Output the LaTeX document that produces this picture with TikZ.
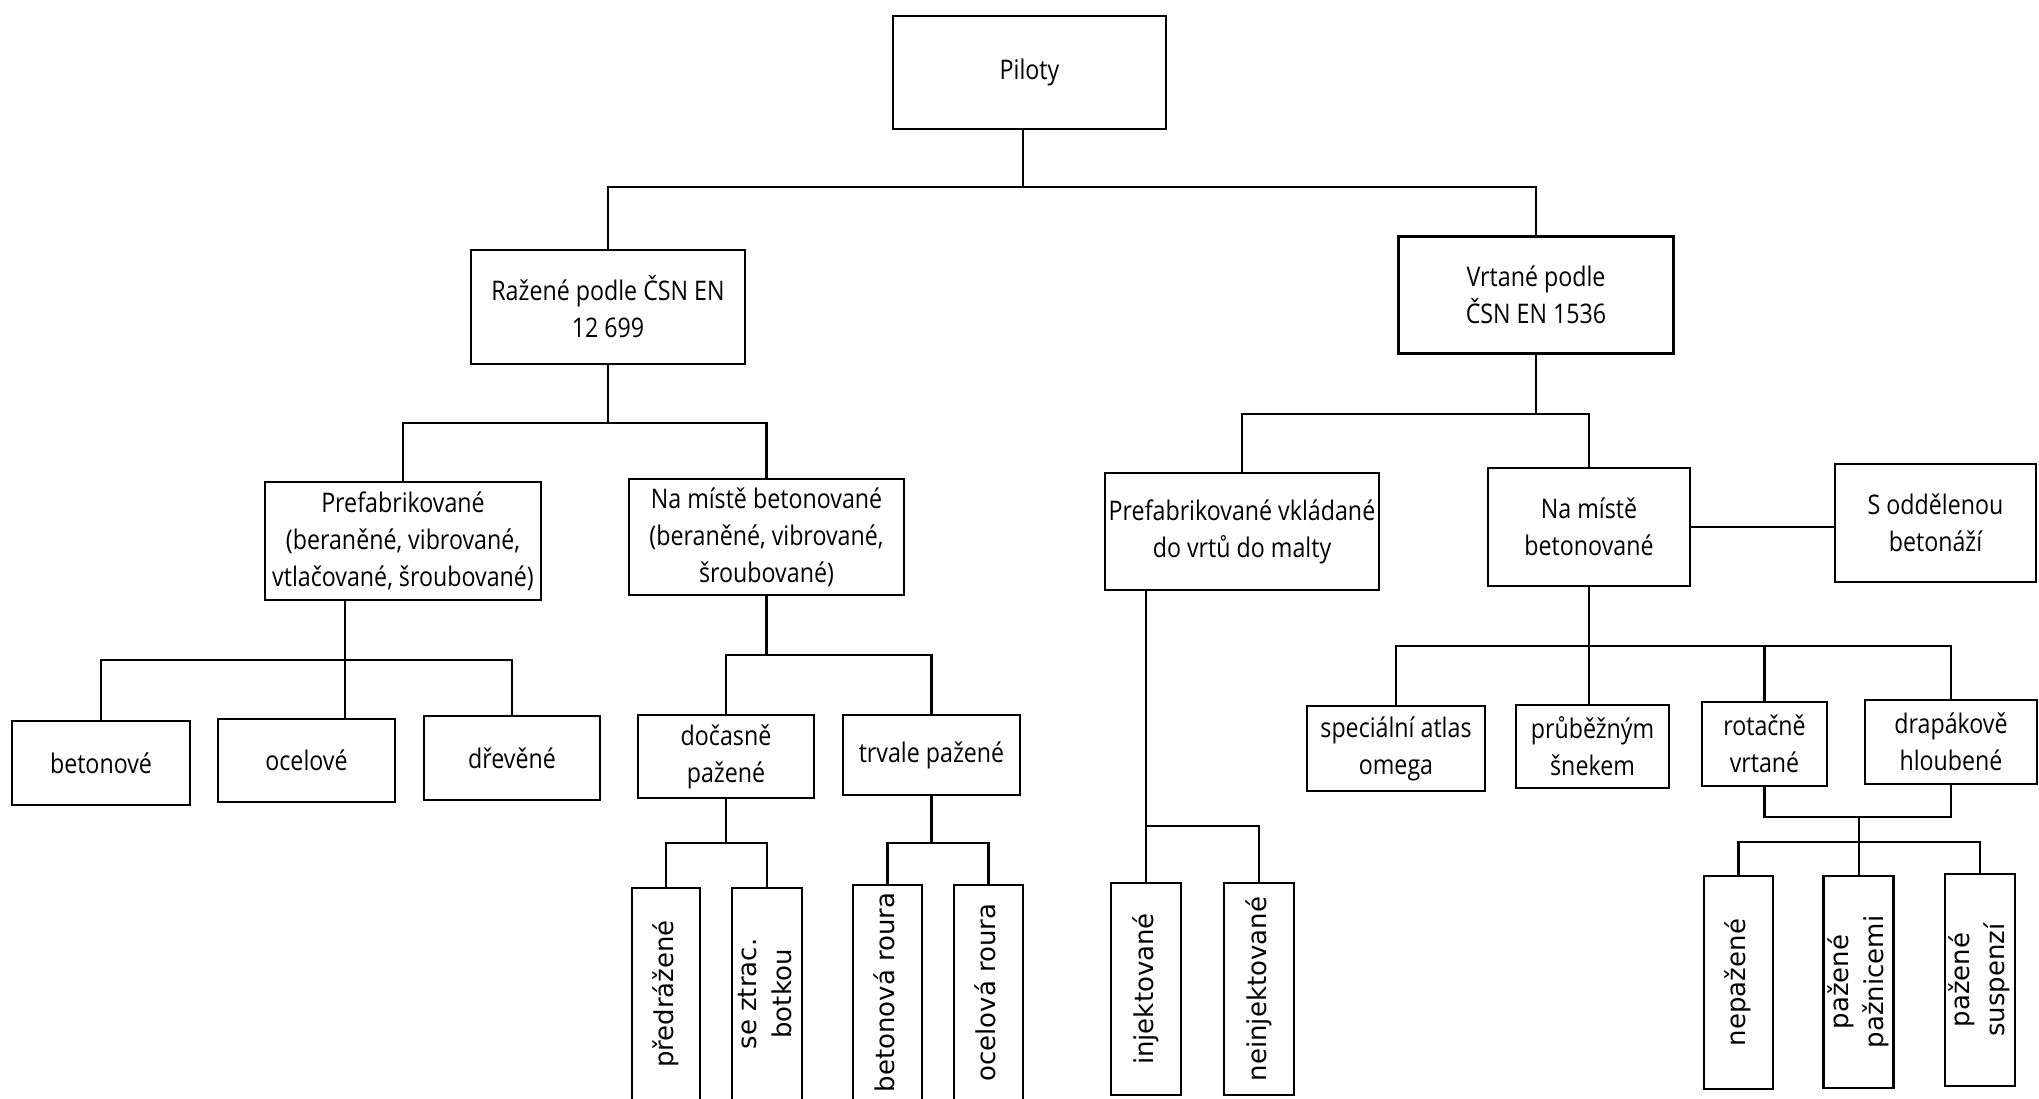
\documentclass[tikz,border=0pt]{standalone}
\usepackage{fontspec}
\setmainfont{Open Sans}[FakeStretch=0.86]
\newfontfamily\vfont{DejaVu Sans}

\newcommand\vtext[1]{\rotatebox{90}{\vfont\fontsize{13}{17.5}\selectfont\begin{tabular}{@{}c@{}}#1\end{tabular}}}

\begin{document}
\begin{tikzpicture}[x=0.5pt, y=-0.5pt, line width=1.1pt,
  hb/.style={draw, line width=1.35pt, inner sep=0pt, align=center,
    font=\fontsize{13.5}{18.5}\selectfont},
  vb/.style={draw, line width=1.35pt, inner sep=0pt}]
  \useasboundingbox (0,0) rectangle (2039,1098);

  \node (pil) [hb, minimum width=136.5pt, minimum height=56.5pt] at (1029.5,72.5) {Piloty};

  \node (raz) [hb, minimum width=137pt, minimum height=57pt] at (608,307) {Ražené podle ČSN EN\\12 699};
  \node (vrt) [hb, minimum width=137.5pt, minimum height=58.5pt] at (1536,295) {Vrtané podle\\ČSN EN 1536};

  % razene
  \node (prefA) [hb, minimum width=138pt, minimum height=59pt] at (403,541) {Prefabrikované\\(beraněné, vibrované,\\vtlačované, šroubované)};
  \node (namA) [hb, minimum width=137.5pt, minimum height=58pt] at (766.5,537) {Na místě betonované\\(beraněné, vibrované,\\šroubované)};

  \node (beton) [hb, minimum width=89pt, minimum height=42pt] at (101,763) {betonové};
  \node (ocel) [hb, minimum width=88.5pt, minimum height=41.5pt] at (306.5,760.5) {ocelové};
  \node (drev) [hb, minimum width=88pt, minimum height=42pt] at (512,758) {dřevěné};
  \node (doc) [hb, minimum width=88pt, minimum height=41.5pt] at (726,756.5) {dočasně\\pažené};
  \node (trv) [hb, minimum width=88.5pt, minimum height=40pt] at (931.5,755) {trvale pažené};

  \node (pred) [vb, minimum width=34pt, minimum height=106pt] at (666,994) {\vtext{předrážené}};
  \node (ztr) [vb, minimum width=35pt, minimum height=106pt] at (767,994) {\vtext{se ztrac.\\botkou}};
  \node (betr) [vb, minimum width=34.5pt, minimum height=107.5pt] at (887.5,992.5) {\vtext{betonová roura}};
  \node (ocr) [vb, minimum width=34.5pt, minimum height=107.5pt] at (988.5,992.5) {\vtext{ocelová roura}};

  % vrtane
  \node (prefB) [hb, minimum width=137pt, minimum height=58.5pt] at (1242,531.5) {Prefabrikované vkládané\\do vrtů do malty};
  \node (namB) [hb, minimum width=101pt, minimum height=59pt] at (1589,527) {Na místě\\betonované};
  \node (sodd) [hb, minimum width=100.5pt, minimum height=59pt] at (1935.5,523) {S oddělenou\\betonáží};

  \node (inj) [vb, minimum width=35pt, minimum height=106pt] at (1146,989) {\vtext{injektované}};
  \node (ninj) [vb, minimum width=35pt, minimum height=106pt] at (1259,989) {\vtext{neinjektované}};

  \node (spec) [hb, minimum width=89pt, minimum height=42.5pt] at (1396,748.5) {speciální atlas\\omega};
  \node (prub) [hb, minimum width=76.5pt, minimum height=41.5pt] at (1592.5,746.5) {průběžným\\šnekem};
  \node (rot) [hb, minimum width=62.5pt, minimum height=42pt] at (1764.5,744) {rotačně\\vrtané};
  \node (drap) [hb, minimum width=86pt, minimum height=42pt] at (1951,742) {drapákově\\hloubené};

  \node (nep) [vb, minimum width=34.5pt, minimum height=106.5pt] at (1738.5,982.5) {\vtext{nepažené}};
  \node (pzn) [vb, minimum width=34.5pt, minimum height=106pt] at (1858.5,982) {\vtext{pažené\\pažnicemi}};
  \node (psus) [vb, minimum width=35pt, minimum height=106pt] at (1980,980) {\vtext{pažené\\suspenzí}};

  % junctions
  \coordinate (j1) at (1023,187);
  \coordinate (j2a) at (611,423);
  \coordinate (j2b) at (1539,414);
  \coordinate (j3a) at (345,660);
  \coordinate (j3b) at (769,655);
  \coordinate (j4a) at (724,843);
  \coordinate (j4b) at (930,843);
  \coordinate (j3c) at (1146,826);
  \coordinate (j3d) at (1589,646);
  \coordinate (j4c) at (1859,817);
  \coordinate (j4d) at (1859,842);

  \draw (j1 |- pil.south) -- (j1);
  \draw (raz.north) |- (j1) -| (vrt.north);

  \draw (raz.south) -- (raz.south |- j2a);
  \draw (prefA.north) |- (j2a) -| (namA.north);
  \draw (vrt.south) -- (vrt.south |- j2b);
  \draw (prefB.north) |- (j2b) -| (namB.north);
  \draw (namB.east) -- (namB.east -| sodd.west);

  \draw (j3a |- prefA.south) -- (j3a |- ocel.north);
  \draw (beton.north) |- (j3a) -| (drev.north);
  \draw (namA.south) -- (namA.south |- j3b);
  \draw (doc.north) |- (j3b) -| (trv.north);

  \draw (doc.south) -- (doc.south |- j4a);
  \draw (pred.north) |- (j4a) -| (ztr.north);
  \draw (trv.south) -- (trv.south |- j4b);
  \draw (betr.north) |- (j4b) -| (ocr.north);

  \draw (j3c |- prefB.south) -- (inj.north);
  \draw (j3c) -| (ninj.north);

  \draw (namB.south) -- (j3d |- prub.north);
  \draw (spec.north) |- (j3d) -| (drap.north);
  \draw (rot.north |- j3d) -- (rot.north);

  \draw (rot.south) |- (j4c) -| (drap.south);
  \draw (j4c) -- (j4c |- pzn.north);
  \draw (nep.north) |- (j4d) -| (psus.north);
\end{tikzpicture}
\end{document}
